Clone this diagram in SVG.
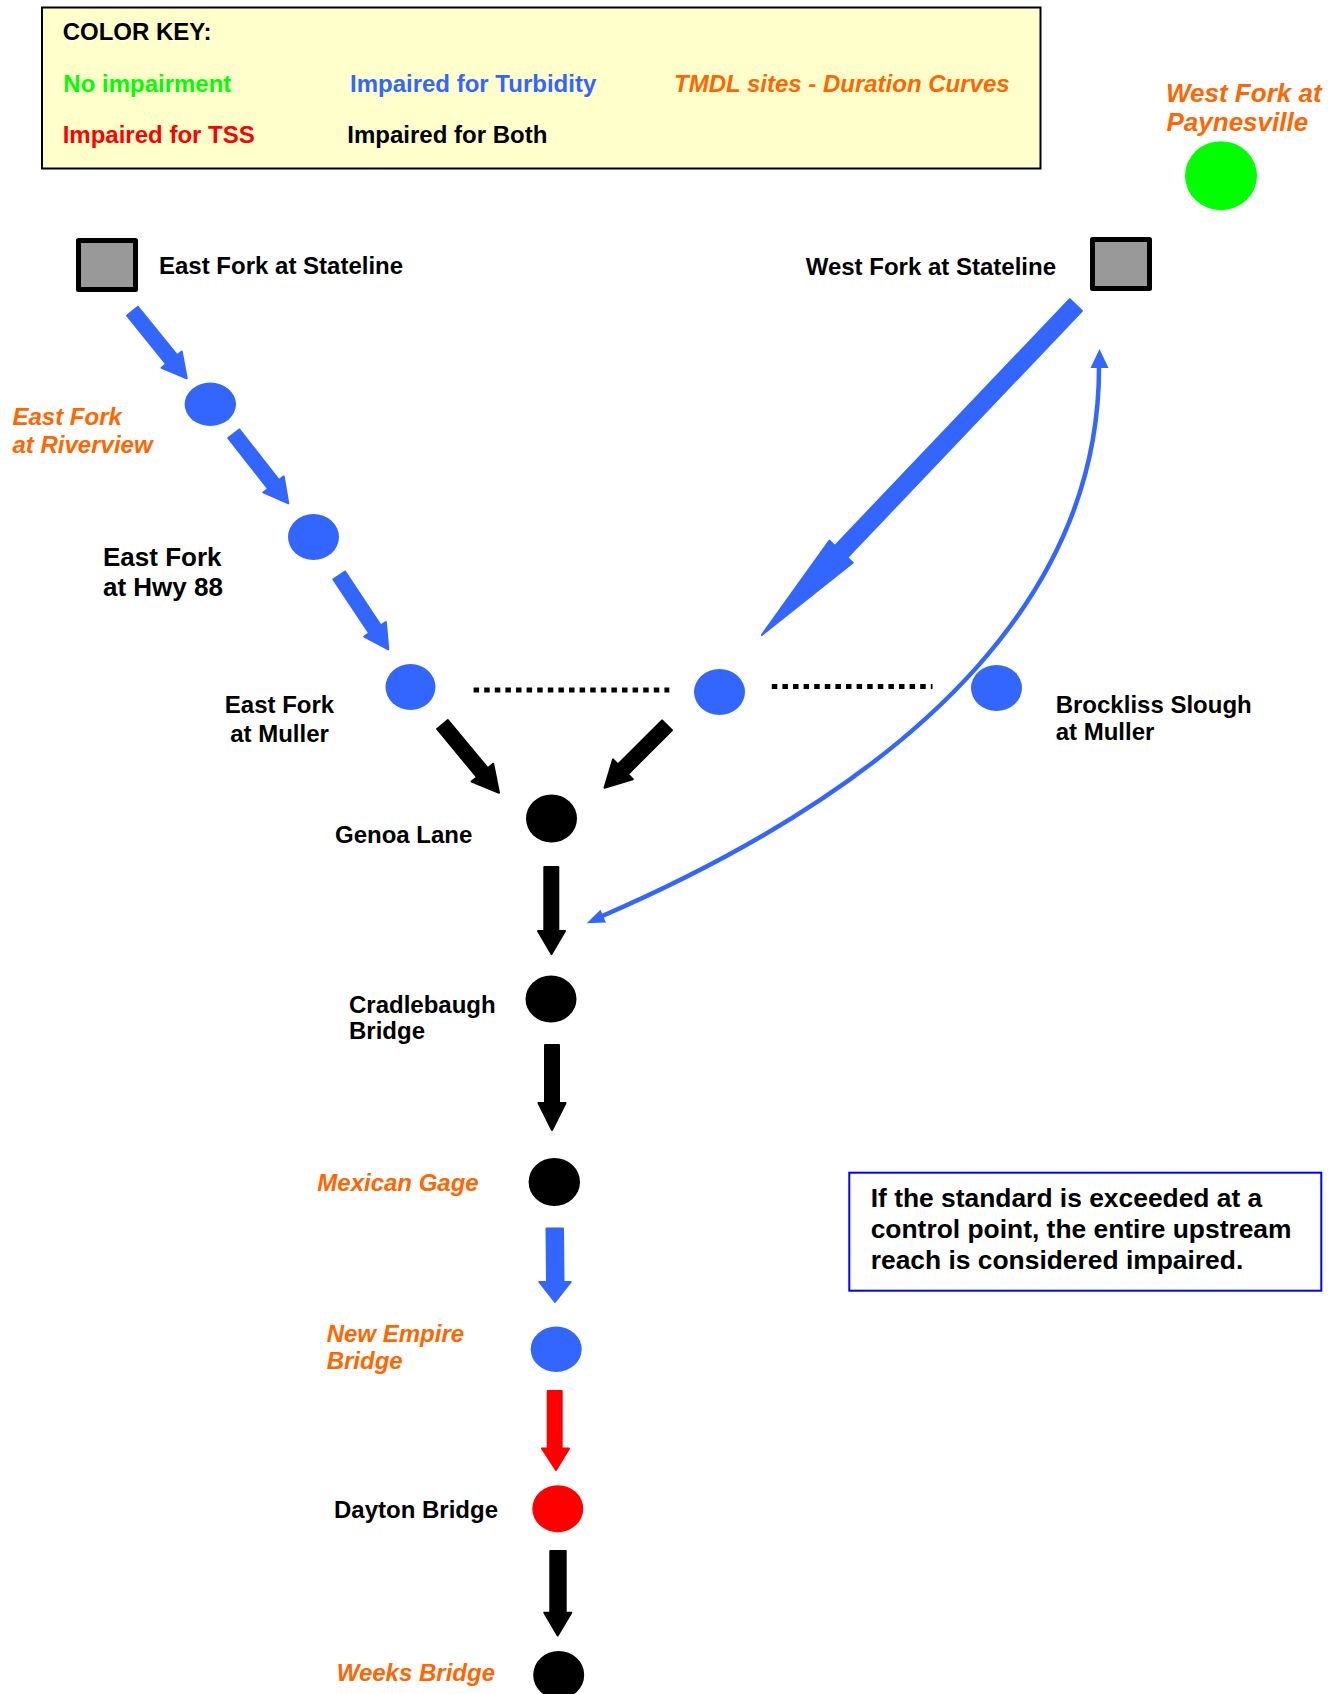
<svg xmlns="http://www.w3.org/2000/svg" width="1343" height="1694" viewBox="0 0 1343 1694">
<style>
text{font-family:"Liberation Sans",Arial,sans-serif;font-weight:bold;font-size:24px;fill:#000}
.or{fill:#FF6600;font-style:italic}
.bl{fill:#3366FF}.gr{fill:#00FF00}.rd{fill:#FF0000}
.arb{fill:#3366FF;stroke:#3366FF;stroke-width:2;stroke-linejoin:round}
.ark{fill:#000;stroke:#000;stroke-width:2;stroke-linejoin:round}
.arr{fill:#FF0000;stroke:#FF0000;stroke-width:2;stroke-linejoin:round}
.sq{fill:#999999;stroke:#000;stroke-width:5;stroke-linejoin:round}
.dot{stroke:#000;stroke-width:5;stroke-dasharray:5.5 5.1;fill:none}
</style>
<rect width="1343" height="1694" fill="#fff"/>
<g id="color-key">
<rect x="42" y="7.5" width="998.5" height="161" fill="#FFFFCC" stroke="#000" stroke-width="2"/>
<text x="62.7" y="40">COLOR KEY:</text>
<text class="gr" x="63.3" y="91.7">No impairment</text>
<text class="bl" x="350" y="91.7">Impaired for Turbidity</text>
<text class="or" x="674" y="91.7">TMDL sites - Duration Curves</text>
<text class="rd" x="62.7" y="143.3">Impaired for TSS</text>
<text x="347.3" y="143.3">Impaired for Both</text>
</g>
<g id="connectors">
<polygon class="arb" points="127.06,315.6 166.18,364.03 161.51,367.8 186.7,378.3 181.73,351.46 177.07,355.23 137.95,306.8"/>
<polygon class="arb" points="228.29,438.12 267.98,488.73 263.26,492.43 288.3,503.3 283.72,476.39 279,480.09 239.31,429.48"/>
<polygon class="arb" points="333.37,579.38 369.18,633.2 364.19,636.52 388.3,649.3 385.83,622.12 380.84,625.44 345.03,571.62"/>
<polygon class="arb" points="1069.74,299.14 834.92,545.85 829.49,540.68 761.8,635 852.67,562.74 847.24,557.57 1082.06,310.86"/>
<path d="M1099,366 C1100,580 940,770 600,917" fill="none" stroke="#3366FF" stroke-width="4.5"/>
<polygon fill="#3366FF" points="1099.5,349 1090.5,368 1108.5,368"/>
<polygon fill="#3366FF" points="586.7,923.3 606,922.6 600.4,909.8"/>
<line class="dot" x1="473.6" y1="690" x2="669.3" y2="690"/>
<line class="dot" x1="771.8" y1="686.5" x2="932.5" y2="686.5"/>
<polygon class="ark" points="437.11,728.97 477.02,777.15 471.63,781.61 499,792.7 493.19,763.75 487.8,768.21 447.89,720.03"/>
<polygon class="ark" points="662.05,720.35 617.95,764.38 613.01,759.42 604.5,787.7 632.79,779.24 627.85,774.28 671.95,730.25"/>
<polygon class="ark" points="544.3,867 558.3,867 558.3,931 565,931 551.5,954 538,931 544.3,931"/>
<polygon class="ark" points="545,1045 559,1045 559,1103 565.5,1103 552,1130 538.5,1103 545,1103"/>
<polygon class="arb" points="546.5,1228.6 563,1228.6 563.5,1282 570.7,1282 555,1302 539.3,1282 547,1282"/>
<polygon class="arr" points="547.7,1391 561.7,1391 561.7,1448.4 569,1448.4 556,1470 542,1448.4 547.7,1448.4"/>
<polygon class="ark" points="550.3,1551 565.7,1551 565.7,1612.7 571.3,1612.7 557.7,1635.5 544.3,1612.7 550.3,1612.7"/>
</g>
<g id="node-west-fork-paynesville">
<ellipse cx="1221" cy="175.7" rx="36" ry="34.5" fill="#00FF00"/>
<text class="or" x="1166" y="101.7" style="font-size:26px">West Fork at</text>
<text class="or" x="1166.5" y="131" style="font-size:26px">Paynesville</text>
</g>
<g id="node-east-fork-stateline">
<rect class="sq" x="78.5" y="240.5" width="57" height="49"/>
<text x="159" y="274.3">East Fork at Stateline</text>
</g>
<g id="node-west-fork-stateline">
<rect class="sq" x="1092.5" y="239.5" width="57" height="49"/>
<text x="1056" y="275" text-anchor="end">West Fork at Stateline</text>
</g>
<g id="node-east-fork-riverview">
<ellipse cx="210.3" cy="404.3" rx="25.7" ry="21.7" fill="#3366FF"/>
<text class="or" x="12.5" y="425">East Fork</text>
<text class="or" x="12.5" y="452.7">at Riverview</text>
</g>
<g id="node-east-fork-hwy88">
<ellipse cx="313.5" cy="537" rx="25.5" ry="23" fill="#3366FF"/>
<text x="103" y="565.7" style="font-size:26px">East Fork</text>
<text x="103" y="596" style="font-size:26px">at Hwy 88</text>
</g>
<g id="node-east-fork-muller">
<ellipse cx="410.5" cy="687" rx="25" ry="23" fill="#3366FF"/>
<text x="279.5" y="712.7" text-anchor="middle">East Fork</text>
<text x="279.5" y="741.7" text-anchor="middle">at Muller</text>
</g>
<g id="node-west-fork-muller">
<ellipse cx="719.5" cy="692" rx="25.5" ry="23" fill="#3366FF"/>
</g>
<g id="node-brockliss-slough">
<ellipse cx="996.5" cy="688" rx="25.5" ry="23" fill="#3366FF"/>
<text x="1055.7" y="713.3">Brockliss Slough</text>
<text x="1055.7" y="740">at Muller</text>
</g>
<g id="node-genoa-lane">
<ellipse cx="551.5" cy="818.5" rx="25.5" ry="24" fill="#000"/>
<text x="335" y="842.7">Genoa Lane</text>
</g>
<g id="node-cradlebaugh">
<ellipse cx="551" cy="999" rx="25.5" ry="23.5" fill="#000"/>
<text x="349" y="1012.7">Cradlebaugh</text>
<text x="349" y="1039">Bridge</text>
</g>
<g id="node-mexican-gage">
<ellipse cx="554.3" cy="1182" rx="25.7" ry="24" fill="#000"/>
<text class="or" x="317.3" y="1191.2">Mexican Gage</text>
</g>
<g id="node-new-empire">
<ellipse cx="556.2" cy="1349.3" rx="25.5" ry="22.7" fill="#3366FF"/>
<text class="or" x="326.7" y="1342">New Empire</text>
<text class="or" x="326.7" y="1369">Bridge</text>
</g>
<g id="node-dayton">
<ellipse cx="557.8" cy="1508.7" rx="25.5" ry="23.5" fill="#FF0000"/>
<text x="334" y="1518">Dayton Bridge</text>
</g>
<g id="node-weeks">
<ellipse cx="558.7" cy="1675" rx="25.5" ry="24" fill="#000"/>
<text class="or" x="336.7" y="1680.6">Weeks Bridge</text>
</g>
<g id="note">
<rect x="849.3" y="1172.7" width="472" height="118" fill="#fff" stroke="#0000FF" stroke-width="2"/>
<text x="870.7" y="1206.7" style="font-size:26.4px">If the standard is exceeded at a</text>
<text x="870.7" y="1237.5" style="font-size:26.4px">control point, the entire upstream</text>
<text x="870.7" y="1269" style="font-size:26.4px">reach is considered impaired.</text>
</g>
</svg>
